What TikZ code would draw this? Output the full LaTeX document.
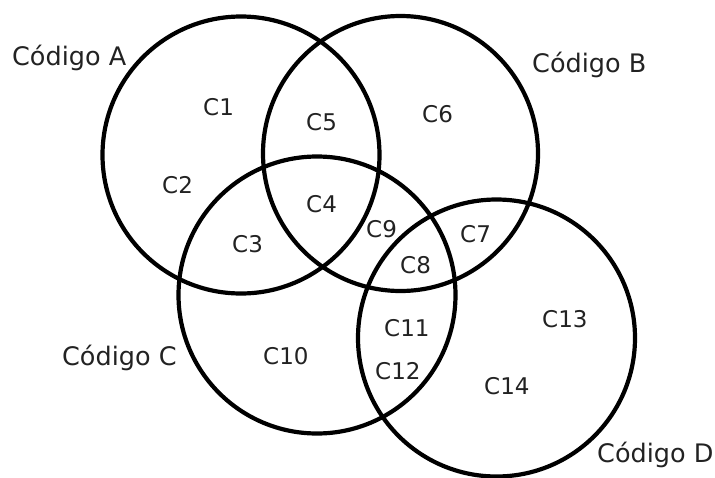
\documentclass[tikz,border=0pt]{standalone}
\usepackage{fontspec}
\setmainfont{DejaVu Sans}
\definecolor{txt}{HTML}{222222}
\begin{document}
\begin{tikzpicture}[x=1pt,y=-1pt,
  ring/.style={draw=black,line width=4.2pt},
  region/.style={anchor=base west,inner sep=0pt,text=txt,font=\fontsize{23}{27}\selectfont},
  setname/.style={anchor=base west,inner sep=0pt,text=txt,font=\fontsize{25.5}{30}\selectfont}]
\useasboundingbox (0,0) rectangle (715,477);
\node[ring,circle,minimum size=277pt,inner sep=0pt] (A) at (241,155) {};
\node[ring,circle,minimum size=275pt,inner sep=0pt] (B) at (400.5,153.5) {};
\node[ring,circle,minimum size=277pt,inner sep=0pt] (C) at (317,295) {};
\node[ring,circle,minimum size=277pt,inner sep=0pt] (D) at (496.5,338) {};
\node[setname] (nA) at (12,65) {Código A};
\node[setname] (nB) at (532,72) {Código B};
\node[setname] (nC) at (62,365) {Código C};
\node[setname] (nD) at (597,462) {Código D};
\node[region] (c1) at (203,115) {C1};
\node[region] (c2) at (162,193) {C2};
\node[region] (c3) at (232,252) {C3};
\node[region] (c4) at (306,212) {C4};
\node[region] (c5) at (306,130) {C5};
\node[region] (c6) at (422,122) {C6};
\node[region] (c7) at (460,242) {C7};
\node[region] (c8) at (400,273) {C8};
\node[region] (c9) at (366,237) {C9};
\node[region] (c10) at (263,364) {C10};
\node[region] (c11) at (384,336) {C11};
\node[region] (c12) at (375,379) {C12};
\node[region] (c13) at (542,327) {C13};
\node[region] (c14) at (484,394) {C14};
\end{tikzpicture}
\end{document}
